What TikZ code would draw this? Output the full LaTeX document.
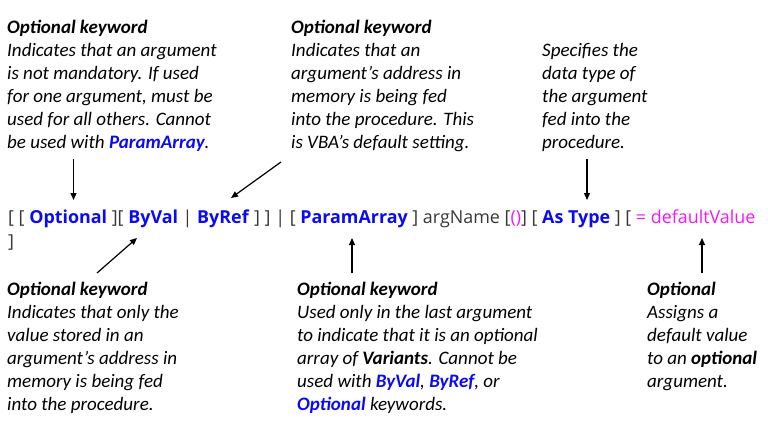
\documentclass[tikz,border=0pt]{standalone}
\usepackage{fontspec}
\setmainfont{Carlito}
\newfontfamily\codefont{Open Sans}
\usetikzlibrary{arrows.meta}
\definecolor{kwblue}{RGB}{10,10,245}
\definecolor{kwmag}{RGB}{250,20,250}
\definecolor{brk}{RGB}{55,55,55}
\tikzset{
  desc/.style={anchor=base west, inner sep=0pt, align=left,
    font=\fontsize{19}{23}\selectfont\itshape},
  arr/.style={line width=1.2pt, -{Triangle[length=7pt,width=6pt]}},
}
\newcommand{\kw}[1]{\textcolor{kwblue}{\textbf{#1}}}
\newcommand{\br}[1]{\textcolor{brk}{#1}}
\begin{document}
\begin{tikzpicture}[x=1pt,y=-1pt]
\useasboundingbox (0,0) rectangle (768,432);
% top descriptions (anchor = baseline of last line)
\node[desc] (t1) at (7,148) {\textbf{Optional keyword}\\Indicates that an argument\\is not mandatory. If used\\for one argument, must be\\used for all others. Cannot\\be used with \kw{ParamArray}.};
\node[desc] (t2) at (291,148) {\textbf{Optional keyword}\\Indicates that an\\argument’s address in\\memory is being fed\\into the procedure. This\\is VBA’s default setting.};
\node[desc] (t3) at (542,148) {Specifies the\\data type of\\the argument\\fed into the\\procedure.};
% syntax line
\node[anchor=base west, inner sep=0pt, align=left,
  font=\codefont\fontsize{17.9}{24}\selectfont] (syn) at (8,247)
  {\br{[ [} \kw{Optional} \br{][} \kw{ByVal} \br{|} \kw{ByRef} \br{] ] | [} \kw{ParamArray} \br{]} \textcolor{brk}{argName} \br{[}\textcolor{kwmag}{()}\br{]} \br{[} \kw{As Type} \br{] [} \textcolor{kwmag}{= defaultValue}\\\br{]}};
% bottom descriptions
\node[desc] (b1) at (7,410) {\textbf{Optional keyword}\\Indicates that only the\\value stored in an\\argument’s address in\\memory is being fed\\into the procedure.};
\node[desc] (b2) at (297,410) {\textbf{Optional keyword}\\Used only in the last argument\\to indicate that it is an optional\\array of \textbf{Variants}. Cannot be\\used with \kw{ByVal}, \kw{ByRef}, or\\\kw{Optional} keywords.};
\node[desc] (b3) at (647,387) {\textbf{Optional}\\Assigns a\\default value\\to an \textbf{optional}\\argument.};
% arrow end points
\coordinate (a1s) at (73.5,159); \coordinate (a1e) at (73.5,200);
\coordinate (a2s) at (281,162); \coordinate (a2e) at (231,198);
\coordinate (a3s) at (587,159); \coordinate (a3e) at (587,200);
\coordinate (a4s) at (97,273);  \coordinate (a4e) at (137,238);
\coordinate (a5s) at (352,273); \coordinate (a5e) at (352,238);
\coordinate (a6s) at (702,273); \coordinate (a6e) at (702,238);
\draw[arr] (a1s) -- (a1e);
\draw[arr] (a2s) -- (a2e);
\draw[arr] (a3s) -- (a3e);
\draw[arr] (a4s) -- (a4e);
\draw[arr] (a5s) -- (a5e);
\draw[arr] (a6s) -- (a6e);
\end{tikzpicture}
\end{document}
